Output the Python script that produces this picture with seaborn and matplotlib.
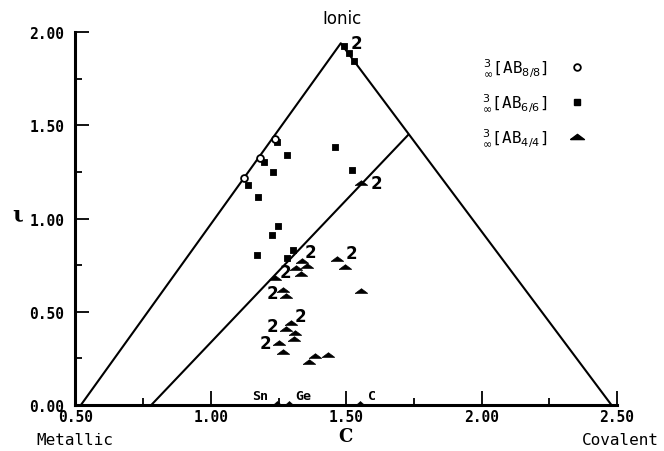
import matplotlib
matplotlib.use("Agg")
import matplotlib.pyplot as plt
import seaborn as sns
import pandas as pd
from matplotlib.lines import Line2D
from matplotlib.ticker import MultipleLocator

# triangle outline (two sides) and the inner dividing line
side_c = [0.52, 1.48, 2.48]
side_i = [0.00, 1.94, 0.00]
inner_c = [0.78, 1.73]
inner_i = [0.00, 1.45]

# AB 8/8 structures (open circles)
circ_c = [1.123, 1.181, 1.236]
circ_i = [1.217, 1.324, 1.426]

# AB 6/6 structures (filled squares)
sq_c = [1.491, 1.509, 1.528, 1.244, 1.280, 1.197, 1.231, 1.136, 1.173,
        1.248, 1.227, 1.170, 1.458, 1.523, 1.304, 1.282]
sq_i = [1.925, 1.887, 1.845, 1.408, 1.340, 1.301, 1.248, 1.180, 1.114,
        0.958, 0.912, 0.803, 1.382, 1.262, 0.833, 0.790]

# AB 4/4 structures (triangles)
tet_c = [1.556, 1.336, 1.354, 1.316, 1.334, 1.238, 1.267, 1.279, 1.465, 1.494,
         1.554, 1.295, 1.277, 1.310, 1.306, 1.250, 1.267, 1.384, 1.363, 1.434]
tet_i = [1.192, 0.772, 0.743, 0.733, 0.701, 0.681, 0.618, 0.584, 0.784, 0.738,
         0.611, 0.439, 0.408, 0.386, 0.354, 0.334, 0.286, 0.263, 0.232, 0.269]

# elements on the base line
elem_names = ["Sn", "Ge", "C"]
elem_c = [1.244, 1.290, 1.550]
elem_i = [0.0, 0.0, 0.0]

# points that stand for two compounds ("2")
sq_double = [0]
tet_double = [0, 1, 5, 6, 8, 11, 12, 15]

legend_labels = [r"${}^{3}_{\infty}$[AB$_{8/8}$]",
                 r"${}^{3}_{\infty}$[AB$_{6/6}$]",
                 r"${}^{3}_{\infty}$[AB$_{4/4}$]"]

sns.set_theme(style="white")
plt.rcParams["font.family"] = ["DejaVu Sans Mono", "DejaVu Sans"]
plt.rcParams["mathtext.fontset"] = "dejavusans"
plt.rcParams["text.color"] = "black"
plt.rcParams["xtick.color"] = "black"
plt.rcParams["ytick.color"] = "black"

fig = plt.figure(figsize=(6.64, 4.52), dpi=100)
ax = fig.add_axes([0.1137, 0.1018, 0.8153, 0.825])

flat_tri = [(-1, -0.3), (1, -0.3), (0, 0.45), (-1, -0.3)]
base_bump = [(-1, 0), (1, 0), (0, 0.9), (-1, 0)]

sns.lineplot(x=side_c, y=side_i, sort=False, color="black", lw=1.5, ax=ax)
sns.lineplot(x=inner_c, y=inner_i, sort=False, color="black", lw=1.5, ax=ax)

sns.scatterplot(x=sq_c, y=sq_i, marker="s", s=18, color="black",
                edgecolor="black", linewidth=0.6, ax=ax, zorder=3)
sns.scatterplot(x=circ_c, y=circ_i, marker="o", s=24, facecolor="white",
                edgecolor="black", linewidth=1.3, ax=ax, zorder=4)
sns.scatterplot(x=tet_c, y=tet_i, marker=flat_tri, s=80, color="black",
                edgecolor="black", linewidth=0.5, ax=ax, zorder=3)
sns.scatterplot(x=elem_c, y=elem_i, marker=base_bump, s=40, color="black",
                edgecolor="black", linewidth=0.5, ax=ax, zorder=6)
for coll in ax.collections:
    coll.set_clip_on(False)

# "2" markers
tet_offsets = {0: (15, 0), 1: (9, 9), 5: (10, 6), 6: (-11, -3), 8: (15, 6),
               11: (10, 7), 12: (-13, 3), 15: (-13, 0)}
for k in sq_double:
    ax.annotate("2", (sq_c[k], sq_i[k]), xytext=(13, 3), textcoords="offset pixels",
                ha="center", va="center", fontsize=12, fontweight="bold",
                family="DejaVu Sans", annotation_clip=False)
for k in tet_double:
    ax.annotate("2", (tet_c[k], tet_i[k]), xytext=tet_offsets[k], textcoords="offset pixels",
                ha="center", va="center", fontsize=12, fontweight="bold",
                family="DejaVu Sans")

elem_offsets = [(-17, 9), (14, 9), (12, 9)]
for name, c, i, off in zip(elem_names, elem_c, elem_i, elem_offsets):
    ax.annotate(name, (c, i), xytext=off, textcoords="offset pixels",
                ha="center", va="center", fontsize=9.5, fontweight="bold")

ax.set_xlim(0.5, 2.5)
ax.set_ylim(0.0, 2.0)
ax.xaxis.set_major_locator(MultipleLocator(0.5))
ax.xaxis.set_minor_locator(MultipleLocator(0.25))
ax.yaxis.set_major_locator(MultipleLocator(0.5))
ax.yaxis.set_minor_locator(MultipleLocator(0.25))
ax.xaxis.set_major_formatter("{x:.2f}")
ax.yaxis.set_major_formatter("{x:.2f}")
ax.tick_params(which="both", direction="in", colors="black", width=1.3,
               bottom=True, left=True, labelsize=10.5)
ax.tick_params(which="major", length=10)
ax.tick_params(which="minor", length=5)
ax.tick_params(axis="y", pad=8)
ax.tick_params(axis="x", pad=3)
for lab in ax.get_xticklabels() + ax.get_yticklabels():
    lab.set_fontweight("bold")
for s in ["top", "right"]:
    ax.spines[s].set_visible(False)
for s in ["left", "bottom"]:
    ax.spines[s].set_linewidth(2.2)
    ax.spines[s].set_color("black")
    ax.spines[s].set_zorder(2)
ax.set_xlabel("")
ax.set_ylabel("")

fig.text(0.515, 0.958, "Ionic", ha="center", va="center", fontsize=12,
         family="DejaVu Sans")
fig.text(0.113, 0.026, "Metallic", ha="center", va="center", fontsize=11.5)
fig.text(0.934, 0.026, "Covalent", ha="center", va="center", fontsize=11.5)
fig.text(0.52, 0.033, "C", ha="center", va="center", fontsize=13,
         family="DejaVu Serif", fontweight="bold")
fig.text(0.027, 0.524, "ι", ha="center", va="center", fontsize=16,
         family="DejaVu Serif", fontweight="bold")

handles = [
    Line2D([], [], ls="none", marker="o", ms=4.8, mfc="white", mec="black", mew=1.3),
    Line2D([], [], ls="none", marker="s", ms=4.2, color="black"),
    Line2D([], [], ls="none", marker=flat_tri, ms=10, color="black"),
]
fig.legend(handles, legend_labels, loc="upper left", bbox_to_anchor=(0.705, 0.905),
           frameon=False, markerfirst=False, fontsize=11.5, labelspacing=0.85,
           handlelength=1.2, handletextpad=1.2)

fig.savefig("out.png", dpi=100)
